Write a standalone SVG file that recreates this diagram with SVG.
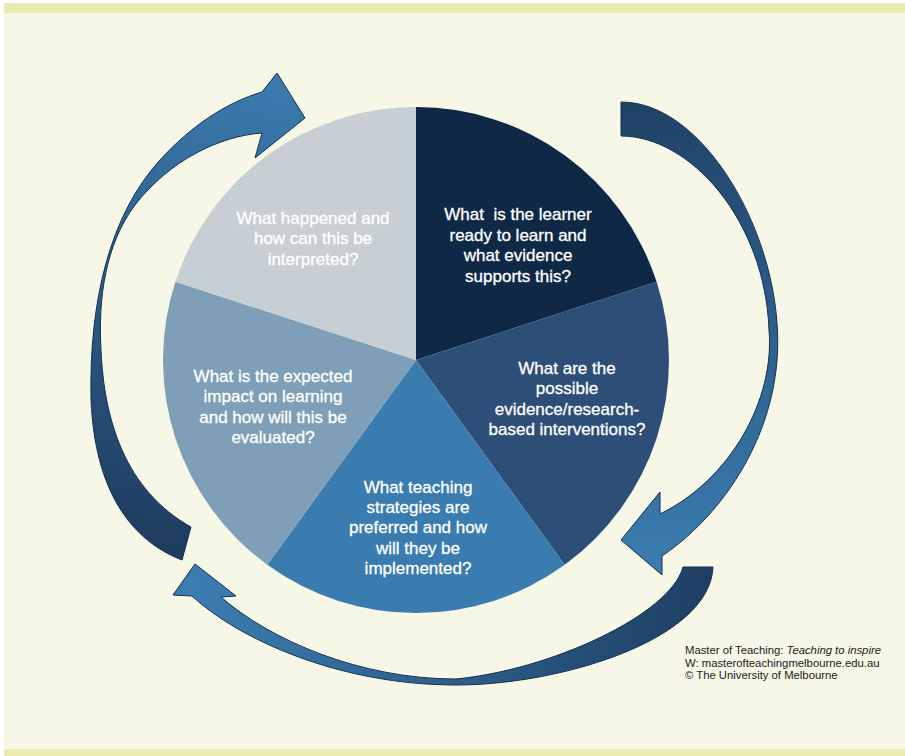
<svg xmlns="http://www.w3.org/2000/svg" width="905" height="756" viewBox="0 0 905 756">
<defs>
<linearGradient id="gLeft" gradientUnits="userSpaceOnUse" x1="150" y1="560" x2="270" y2="90">
<stop offset="0" stop-color="#1d3a5c"/><stop offset="1" stop-color="#3a7aae"/>
</linearGradient>
<linearGradient id="gRight" gradientUnits="userSpaceOnUse" x1="640" y1="105" x2="660" y2="570">
<stop offset="0" stop-color="#1f4267"/><stop offset="1" stop-color="#3b7db1"/>
</linearGradient>
<linearGradient id="gBottom" gradientUnits="userSpaceOnUse" x1="710" y1="600" x2="190" y2="600">
<stop offset="0" stop-color="#1e3f63"/><stop offset="1" stop-color="#3b7db1"/>
</linearGradient>
<style>
.q{font-family:"Liberation Sans",Arial,Helvetica,sans-serif;font-size:17px;fill:#ffffff;stroke:#ffffff;stroke-width:0.3;text-anchor:middle}
.f{font-family:"Liberation Sans",Arial,Helvetica,sans-serif;font-size:11.3px;fill:#222222}
.arr{stroke:#15304f;stroke-width:1;stroke-linejoin:miter}
</style>
</defs>
<rect x="0" y="0" width="905" height="756" fill="#ffffff"/>
<rect x="4" y="3" width="901" height="753" fill="#f6f7e6"/>
<rect x="4" y="3" width="901" height="10" fill="#ebebb1"/>
<rect x="4" y="749" width="901" height="7" fill="#ebebb1"/>

<g id="slice-ready">
<path d="M416,360 L416,107 A253,253 0 0 1 656.6,281.8 Z" fill="#0e2846"/>
<text class="q" x="518" y="220" xml:space="preserve">What  is the learner</text>
<text class="q" x="518" y="241">ready to learn and</text>
<text class="q" x="518" y="261">what evidence</text>
<text class="q" x="518" y="282">supports this?</text>
</g>
<g id="slice-interventions">
<path d="M416,360 L656.6,281.8 A253,253 0 0 1 564.7,564.7 Z" fill="#2c4e77"/>
<text class="q" x="567" y="374">What are the</text>
<text class="q" x="567" y="394">possible</text>
<text class="q" x="567" y="415">evidence/research-</text>
<text class="q" x="567" y="435">based interventions?</text>
</g>
<g id="slice-strategies">
<path d="M416,360 L564.7,564.7 A253,253 0 0 1 267.3,564.7 Z" fill="#3a7bb0"/>
<text class="q" x="418" y="493">What teaching</text>
<text class="q" x="418" y="513">strategies are</text>
<text class="q" x="418" y="533">preferred and how</text>
<text class="q" x="418" y="554">will they be</text>
<text class="q" x="418" y="574">implemented?</text>
</g>
<g id="slice-impact">
<path d="M416,360 L267.3,564.7 A253,253 0 0 1 175.4,281.8 Z" fill="#7e9fb7"/>
<text class="q" x="273" y="382">What is the expected</text>
<text class="q" x="273" y="402">impact on learning</text>
<text class="q" x="273" y="423">and how will this be</text>
<text class="q" x="273" y="443">evaluated?</text>
</g>
<g id="slice-happened">
<path d="M416,360 L175.4,281.8 A253,253 0 0 1 416,107 Z" fill="#c7cfd5"/>
<text class="q" x="313" y="224">What happened and</text>
<text class="q" x="313" y="244">how can this be</text>
<text class="q" x="313" y="265">interpreted?</text>
</g>

<g id="connectors">
<path class="arr" fill="url(#gLeft)" d="M182,560 C130,540 95,490 91,400 C89,300 110,215 160,160 C190,127 225,103 262,92 L277,73 L305,118 L255,158 L262,133 C220,136 170,160 135,205 C105,245 98,300 101,350 C104,420 125,490 191,527 Z"/>
<path class="arr" fill="url(#gRight)" d="M621,102 C700,102 770,220 777,323 C785,420 730,510 662,556 L662,575 L621,540 L660,492 L660,514 C730,480 775,400 769,330 C765,220 690,136 621,136 Z"/>
<path class="arr" fill="url(#gBottom)" d="M713,567 C710,640 560,685 456,685 C340,685 240,640 192,596 L173,595 L195,564 L236,596 L221,597 C270,640 360,679 456,679 C550,670 670,615 683,567 Z"/>
</g>

<g id="footer">
<text class="f" x="685" y="654">Master of Teaching: <tspan font-style="italic">Teaching to inspire</tspan></text>
<text class="f" x="685" y="667">W: masterofteachingmelbourne.edu.au</text>
<text class="f" x="685" y="679">© The University of Melbourne</text>
</g>
</svg>
